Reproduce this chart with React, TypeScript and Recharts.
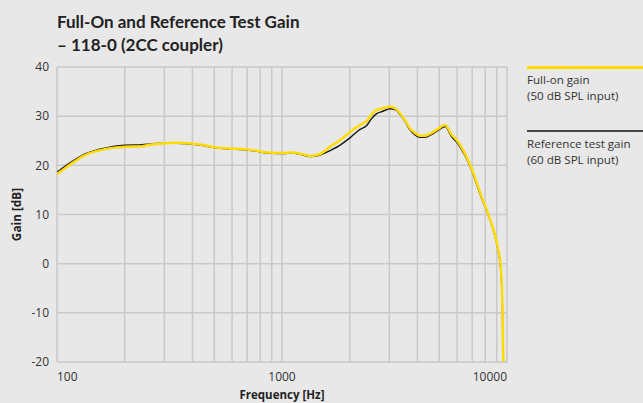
import React from 'react';
import { LineChart, Line, XAxis, YAxis, CartesianGrid } from 'recharts';

const frequencies = [
  100, 110, 120, 133, 150, 163, 180, 200, 238, 270, 300, 340, 382, 440, 500, 580, 662, 760, 866, 950,
  1031, 1085, 1200, 1332, 1475, 1634, 1800, 2005, 2222, 2379, 2500, 2636, 2811, 3020, 3200, 3345,
  3520, 3706, 3900, 4106, 4300, 4548, 4900, 5303, 5680, 6056, 6400, 6710, 7100, 7586, 8233, 8845,
  9148, 9376, 9528, 9630,
];

const fullOnGain = [
  18.2, 19.6, 20.8, 22.1, 22.9, 23.3, 23.6, 23.8, 23.9, 24.3, 24.5, 24.6, 24.5, 24.2, 23.7, 23.4, 23.3,
  23.0, 22.6, 22.5, 22.5, 22.6, 22.4, 21.9, 22.3, 23.8, 25.0, 26.8, 28.2, 29.0, 30.3, 31.3, 31.6, 31.9,
  31.5, 30.6, 29.2, 27.5, 26.6, 26.0, 26.0, 26.4, 27.3, 28.2, 26.2, 24.8, 23.0, 21.1, 18.3, 14.5, 10.2,
  5.8, 2.8, -0.5, -7.3, -20,
];

const referenceGain = [
  18.6, 20.0, 21.1, 22.3, 23.1, 23.5, 23.9, 24.1, 24.2, 24.4, 24.5, 24.5, 24.4, 24.1, 23.6, 23.3, 23.2,
  22.9, 22.5, 22.4, 22.4, 22.5, 22.3, 21.8, 22.1, 23.0, 24.0, 25.6, 27.3, 28.1, 29.5, 30.5, 31.0, 31.5,
  31.3, 30.4, 29.0, 27.2, 26.2, 25.7, 25.7, 26.1, 27.0, 27.9, 25.8, 24.4, 22.6, 20.8, 18.0, 14.2, 10.0,
  5.6, 2.5, -1.0, -8.0, -20,
];

const xTicks = [
  100, 200, 300, 400, 500, 600, 700, 800, 900, 1000, 2000, 3000, 4000, 5000, 6000, 7000, 8000, 9000, 10000,
];
const xLabels = [100, 1000, 10000];
const yTicks = [-20, -10, 0, 10, 20, 30, 40];

const legendItems = [
  { color: '#ffdc00', thickness: 2.5, top: 66, lines: ['Full-on gain', '(50 dB SPL input)'] },
  { color: '#444444', thickness: 1.5, top: 130, lines: ['Reference test gain', '(60 dB SPL input)'] },
];

const data = frequencies.map((f, i) => ({ f, fullOn: fullOnGain[i], reference: referenceGain[i] }));

const TITLE_FONT = 'Lato, "Open Sans", sans-serif';
const FONT = '"Open Sans", Lato, sans-serif';
const YELLOW = '#ffdc00';
const TEXT = '#333333';

const FreqTick = (props: any) => {
  const { x, y, payload } = props;
  if (!xLabels.includes(payload.value)) return <g />;
  const anchor = payload.value === 100 ? 'start' : payload.value === 10000 ? 'end' : 'middle';
  return (
    <text x={x} y={y} dy={11} textAnchor={anchor} fill={TEXT} fontSize={12} fontFamily={FONT}>
      {payload.value}
    </text>
  );
};

export default function App() {
  return (
    <div
      style={{
        position: 'absolute',
        left: 0,
        top: 0,
        width: 643,
        height: 403,
        background: '#e8e8e8',
        fontFamily: FONT,
        overflow: 'hidden',
      }}
    >
      <div
        style={{
          position: 'absolute',
          left: 57,
          top: 10,
          fontFamily: TITLE_FONT,
          fontSize: 17,
          lineHeight: '23px',
          fontWeight: 700,
          color: '#222',
        }}
      >
        Full-On and Reference Test Gain
        <br />– 118-0 (2CC coupler)
      </div>

      <LineChart
        width={643}
        height={403}
        data={data}
        margin={{ top: 67, right: 136, bottom: 0, left: 0 }}
      >
        <CartesianGrid stroke="#c9c9c9" strokeWidth={1.5} />
        <XAxis
          dataKey="f"
          type="number"
          scale="log"
          domain={[100, 10000]}
          allowDataOverflow
          ticks={xTicks}
          interval={0}
          tick={<FreqTick />}
          axisLine={false}
          tickLine={false}
          height={41}
          label={{
            value: 'Frequency [Hz]',
            position: 'insideBottom',
            offset: 4,
            fill: '#222',
            fontSize: 11.5,
            fontWeight: 700,
            fontFamily: FONT,
          }}
        />
        <YAxis
          type="number"
          domain={[-20, 40]}
          ticks={yTicks}
          interval={0}
          width={57}
          axisLine={false}
          tickLine={false}
          tick={{ fill: TEXT, fontSize: 12, fontFamily: FONT }}
          label={{
            value: 'Gain [dB]',
            angle: -90,
            position: 'insideLeft',
            offset: 17,
            style: { textAnchor: 'middle' },
            fill: '#222',
            fontSize: 11.8,
            fontWeight: 700,
            fontFamily: FONT,
          }}
        />
        <Line
          type="monotone"
          dataKey="reference"
          stroke="#1a1a1a"
          strokeWidth={1.5}
          dot={false}
          isAnimationActive={false}
        />
        <Line
          type="monotone"
          dataKey="fullOn"
          stroke={YELLOW}
          strokeWidth={2.5}
          dot={false}
          isAnimationActive={false}
        />
      </LineChart>

      {legendItems.map((item) => (
        <React.Fragment key={item.lines[0]}>
          <div
            style={{
              position: 'absolute',
              left: 527,
              top: item.top,
              width: 116,
              height: item.thickness,
              background: item.color,
            }}
          />
          {item.lines.map((line, j) => (
            <div
              key={line}
              style={{
                position: 'absolute',
                left: 527,
                top: item.top + 6 + j * 15.5,
                fontSize: 11.6,
                lineHeight: '15px',
                color: TEXT,
                whiteSpace: 'nowrap',
              }}
            >
              {line}
            </div>
          ))}
        </React.Fragment>
      ))}
    </div>
  );
}
